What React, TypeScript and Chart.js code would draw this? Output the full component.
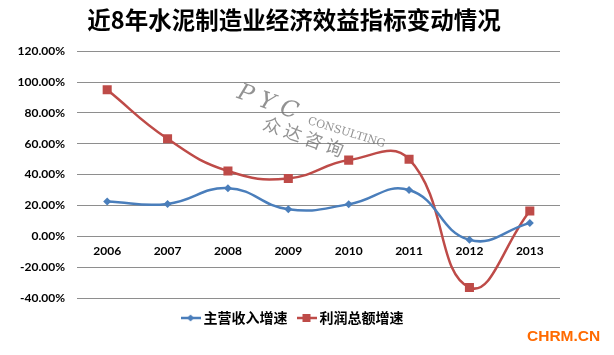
import React, { useEffect, useRef } from "react";
import { Chart, registerables } from "chart.js";

Chart.register(...registerables);

const titleText = "近8年水泥制造业经济效益指标变动情况";
const categories = ["2006", "2007", "2008", "2009", "2010", "2011", "2012", "2013"];
const revenueGrowth = [22.5, 21.0, 31.2, 17.5, 20.7, 30.0, -2.3, 8.7];
const profitGrowth = [95.0, 63.2, 42.3, 37.5, 49.4, 50.0, -33.2, 16.4];
const seriesNames = ["主营收入增速", "利润总额增速"];
const yMin = -40;
const yMax = 120;
const yStep = 20;

const BLUE = "#4A7EBB";
const RED = "#BE4B48";

function legendIcon(color: string, kind: "diamond" | "square"): HTMLCanvasElement {
  const c = document.createElement("canvas");
  c.width = 20;
  c.height = 10;
  const g = c.getContext("2d")!;
  g.strokeStyle = color;
  g.lineWidth = 2.5;
  g.beginPath();
  g.moveTo(0, 5);
  g.lineTo(20, 5);
  g.stroke();
  g.fillStyle = color;
  if (kind === "diamond") {
    g.beginPath();
    g.moveTo(10, 1.5);
    g.lineTo(13.5, 5);
    g.lineTo(10, 8.5);
    g.lineTo(6.5, 5);
    g.closePath();
    g.fill();
  } else {
    g.fillRect(6, 1, 8, 8);
  }
  return c;
}

const decorPlugin = {
  id: "decor",
  beforeDatasetsDraw(chart: any) {
    const ctx = chart.ctx;
    ctx.save();
    ctx.fillStyle = "rgba(110,110,110,0.75)";
    ctx.save();
    ctx.translate(238, 92);
    ctx.rotate((20 * Math.PI) / 180);
    ctx.font = "italic 23px 'DejaVu Serif'";
    ctx.textBaseline = "middle";
    ctx.fillText("P Y C", 0, 0);
    ctx.restore();
    ctx.save();
    ctx.translate(308, 121);
    ctx.rotate((17 * Math.PI) / 180);
    ctx.font = "11px 'DejaVu Serif'";
    ctx.textBaseline = "middle";
    ctx.fillText("CONSULTING", 0, 0);
    ctx.restore();
    ctx.save();
    ctx.translate(264, 122);
    ctx.rotate((20 * Math.PI) / 180);
    ctx.font = "18px 'Noto Sans CJK SC'";
    ctx.textBaseline = "middle";
    ctx.fillText("众 达 咨 询", 0, 0);
    ctx.restore();
    ctx.restore();
  },
  afterDraw(chart: any) {
    const ctx = chart.ctx;
    ctx.save();
    ctx.fillStyle = "#FF6A00";
    ctx.font = "bold 15.5px 'Liberation Sans'";
    ctx.textBaseline = "middle";
    ctx.textAlign = "left";
    ctx.fillText("CHRM.CN", 527, 337);
    ctx.restore();
  },
};

export default function App() {
  const ref = useRef<HTMLCanvasElement | null>(null);

  useEffect(() => {
    document.body.style.margin = "0";
    const canvas = ref.current!;
    const chart = new Chart(canvas, {
      type: "line",
      data: {
        labels: categories,
        datasets: [
          {
            label: seriesNames[0],
            data: revenueGrowth,
            borderColor: BLUE,
            backgroundColor: BLUE,
            borderWidth: 2.5,
            pointStyle: "rectRot",
            pointRadius: 4,
            pointBorderWidth: 0,
            tension: 0.45,
            fill: false,
          },
          {
            label: seriesNames[1],
            data: profitGrowth,
            borderColor: RED,
            backgroundColor: RED,
            borderWidth: 2.5,
            pointStyle: "rect",
            pointRadius: 6.4,
            pointBorderWidth: 0,
            tension: 0.45,
            fill: false,
          },
        ],
      },
      options: {
        animation: false,
        responsive: false,
        maintainAspectRatio: false,
        layout: { padding: { left: 0, right: 26, top: 0, bottom: 20 } },
        plugins: {
          title: {
            display: true,
            text: titleText,
            color: "#000",
            font: { family: "'Noto Sans CJK SC'", size: 23.5, weight: "bold" },
            padding: { top: 6, bottom: 17 },
          },
          legend: {
            position: "bottom",
            labels: {
              color: "#000",
              font: { family: "'Noto Sans CJK SC'", size: 14, weight: "bold" },
              usePointStyle: true,
              pointStyleWidth: 12,
              padding: 13,
              generateLabels: (ch: any) =>
                ch.data.datasets.map((ds: any, i: number) => ({
                  text: ds.label,
                  fillStyle: ds.borderColor,
                  strokeStyle: ds.borderColor,
                  lineWidth: 0,
                  pointStyle: legendIcon(ds.borderColor, i === 0 ? "diamond" : "square"),
                  hidden: false,
                  datasetIndex: i,
                  fontColor: "#000",
                })),
            },
          },
          tooltip: { enabled: false },
        },
        scales: {
          x: {
            type: "category",
            position: { y: 0 } as any,
            offset: true,
            grid: { display: false, drawTicks: false },
            border: { display: false },
            ticks: {
              color: "#000",
              font: { family: "Lato", size: 12, weight: "bold" },
              padding: 8,
              maxRotation: 0,
            },
          },
          y: {
            min: yMin,
            max: yMax,
            ticks: {
              stepSize: yStep,
              color: "#000",
              font: { family: "Lato", size: 12, weight: "bold" },
              padding: 12,
              callback: (v: any) => Number(v).toFixed(2) + "%",
            },
            grid: { color: "#8E8E8E", lineWidth: 1, drawTicks: false },
            border: { display: false },
            afterFit: (s: any) => {
              s.width = 77;
            },
          },
          y2: {
            position: "right",
            min: yMin,
            max: yMax,
            ticks: { display: false },
            grid: { display: false, drawTicks: false },
            border: { display: false },
            afterFit: (s: any) => {
              s.width = 28;
            },
          },
        },
      },
      plugins: [decorPlugin],
    });
    return () => chart.destroy();
  }, []);

  return (
    <div style={{ width: 614, height: 355, background: "#fff" }}>
      <canvas ref={ref} width={614} height={355} style={{ display: "block" }} />
    </div>
  );
}
